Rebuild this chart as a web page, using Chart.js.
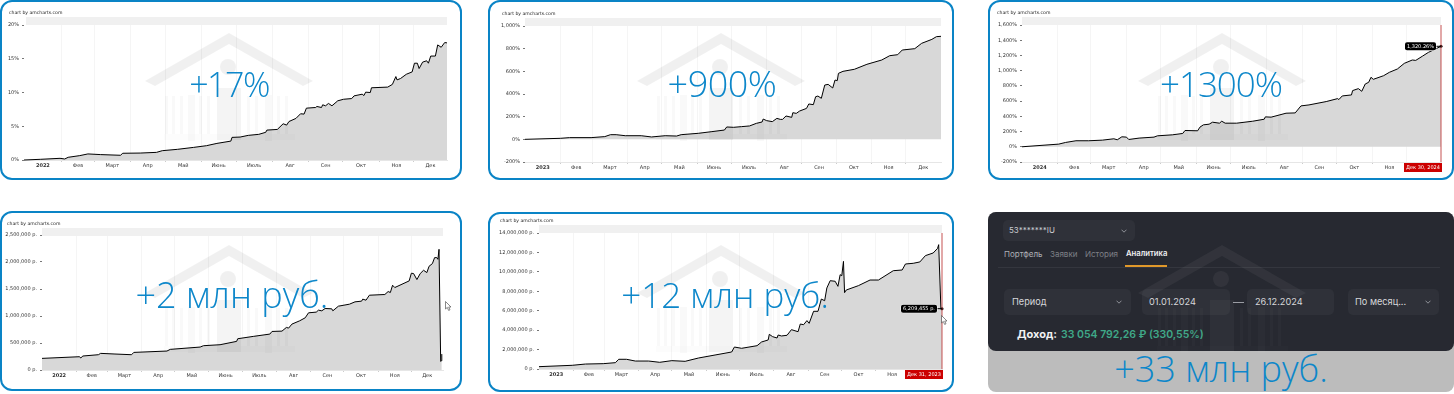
<!DOCTYPE html>
<html lang="ru">
<head>
<meta charset="utf-8">
<title>Доходность</title>
<script src="https://cdn.jsdelivr.net/npm/chart.js@4"></script>
<style>
    html, body { margin: 0; padding: 0; background: #fff; }
    body { position: relative; width: 1454px; height: 394px; overflow: hidden; font-family: "Open Sans", sans-serif; }
    .card { position: absolute; box-sizing: border-box; border: 2px solid #0a84c6; border-radius: 12px; background: #fff; }
    canvas { position: absolute; display: block; filter: blur(0.3px); }
    .credit { position: absolute; font: 4.6px "DejaVu Sans", sans-serif; color: #222; white-space: nowrap; line-height: 6px; }
    .scrollbar { position: absolute; height: 8px; background: #f0f0f0; }
    .house { position: absolute; width: 180px; height: 110px; }
    .big { position: absolute; transform: translateX(-50%); font-family: "Open Sans", sans-serif; font-weight: 300; color: #0d87ca; white-space: nowrap; line-height: 50px; height: 50px; }
    .pointer { position: absolute; width: 7px; height: 10px; }
    #grey { position: absolute; left: 988px; top: 212px; width: 466px; height: 180px; background: #bcbcbc; border-radius: 8px; }
    #dark { position: absolute; left: 988px; top: 212px; width: 466px; height: 139px; background: #272931; border-radius: 8px; }
    .ui { position: absolute; font-family: Inter, sans-serif; white-space: nowrap; }
    .box { position: absolute; background: #2f3139; border-radius: 5px; }
    .chev { position: absolute; width: 6px; height: 4px; }
</style>
</head>
<body>

<svg width="0" height="0" style="position:absolute">
    <symbol id="bank" viewBox="0 0 180 110">
        <path d="M90 0 L6 48 L16 53 L90 11 L164 53 L174 48 Z"/>
        <circle cx="89" cy="34" r="8"/>
        <rect x="78" y="55" width="24" height="52" fill-opacity="0.7"/>
        <g fill-opacity="0.4">
            <rect x="49" y="62" width="7" height="46"/>
            <rect x="126" y="62" width="7" height="46"/>
            <rect x="26" y="63" width="3" height="38"/>
            <rect x="33" y="63" width="3" height="38"/>
            <rect x="41" y="63" width="3" height="38"/>
            <rect x="60" y="63" width="3" height="38"/>
            <rect x="68" y="63" width="3" height="38"/>
            <rect x="108" y="63" width="3" height="38"/>
            <rect x="116" y="63" width="3" height="38"/>
            <rect x="138" y="63" width="3" height="38"/>
            <rect x="146" y="63" width="3" height="38"/>
        </g>
        <rect x="25" y="101" width="131" height="6" fill-opacity="0.2"/>
    </symbol>
    <symbol id="arrow" viewBox="0 0 7 10">
        <path d="M0.5 0.5 L0.5 8 L2.3 6.4 L3.6 9.4 L5 8.8 L3.7 6 L6 6 Z" fill="#fff" stroke="#555" stroke-width="0.7"/>
    </symbol>
    <symbol id="chevron" viewBox="0 0 6 4">
        <path d="M0.5 0.7 L3 3.2 L5.5 0.7" fill="none" stroke="#9a9ca3" stroke-width="0.9"/>
    </symbol>
</svg>

<div class="card" style="left:0;top:0;width:462px;height:180px"></div>
<div class="card" style="left:488px;top:0;width:466px;height:180px"></div>
<div class="card" style="left:988px;top:0;width:466px;height:180px"></div>
<div class="card" style="left:0;top:211px;width:462px;height:180px"></div>
<div class="card" style="left:488px;top:212px;width:466px;height:180px"></div>

<div id="grey"></div>
<div id="dark"></div>
<div class="box" style="left:1003px;top:220px;width:132px;height:21px"></div>
<div class="ui" style="left:1009px;top:224px;font-size:8px;line-height:13px;color:#c9cacf">53*******IU</div>
<svg class="chev" style="left:1121px;top:229px"><use href="#chevron"/></svg>
<div class="ui" style="left:1004px;top:248px;font-size:8px;line-height:12px;color:#aeb0b6">Портфель</div>
<div class="ui" style="left:1050px;top:248px;font-size:8px;line-height:12px;color:#7e8087">Заявки</div>
<div class="ui" style="left:1085px;top:248px;font-size:8px;line-height:12px;color:#7e8087">История</div>
<div class="ui" style="left:1126px;top:248px;font-size:7.7px;line-height:12px;color:#f0f0f2;font-weight:600">Аналитика</div>
<div style="position:absolute;left:998px;top:267px;width:442px;height:1px;background:#34363e"></div>
<div style="position:absolute;left:1125px;top:265px;width:42px;height:2px;background:#e0982a"></div>
<div class="box" style="left:1004px;top:289px;width:127px;height:26px"></div>
<div class="ui" style="left:1012px;top:295px;font-size:9.2px;line-height:14px;color:#d6d7da">Период</div>
<svg class="chev" style="left:1116px;top:300px"><use href="#chevron"/></svg>
<div class="box" style="left:1142px;top:289px;width:88px;height:26px"></div>
<div class="ui" style="left:1149px;top:295px;font-size:9.2px;line-height:14px;color:#d6d7da">01.01.2024</div>
<div style="position:absolute;left:1233px;top:302px;width:11px;height:1px;background:#9a9ca3"></div>
<div class="box" style="left:1247px;top:289px;width:87px;height:26px"></div>
<div class="ui" style="left:1255px;top:295px;font-size:9.2px;line-height:14px;color:#d6d7da">26.12.2024</div>
<div class="box" style="left:1348px;top:289px;width:91px;height:26px"></div>
<div class="ui" style="left:1355px;top:295px;font-size:9.2px;line-height:14px;color:#d6d7da">По месяц...</div>
<svg class="chev" style="left:1425px;top:300px"><use href="#chevron"/></svg>
<div class="ui" style="left:1017px;top:327px;font-size:11px;line-height:15px;color:#f2f2f4;font-weight:700">Доход:</div>
<div class="ui" style="left:1061px;top:327px;font-size:10.5px;line-height:15px;color:#3fa888;font-weight:600">33 054 792,26 ₽ (330,55%)</div>

<canvas id="chart1"></canvas>
<canvas id="chart2"></canvas>
<canvas id="chart3"></canvas>
<canvas id="chart4"></canvas>
<canvas id="chart5"></canvas>

<div class="scrollbar" style="left:26px;top:17px;width:421px"></div>
<div class="scrollbar" style="left:525px;top:18px;width:416px"></div>
<div class="scrollbar" style="left:1022px;top:17px;width:419px"></div>
<div class="scrollbar" style="left:42px;top:228px;width:401px"></div>
<div class="scrollbar" style="left:539px;top:225px;width:403px"></div>

<div class="credit" style="left:9px;top:10px">chart by amcharts.com</div>
<div class="credit" style="left:502px;top:11px">chart by amcharts.com</div>
<div class="credit" style="left:997px;top:10px">chart by amcharts.com</div>
<div class="credit" style="left:7px;top:221px">chart by amcharts.com</div>
<div class="credit" style="left:500px;top:218px">chart by amcharts.com</div>

<svg class="house" style="left:139px;top:33px;fill:rgba(0,0,0,.06)"><use href="#bank"/></svg>
<svg class="house" style="left:631px;top:33px;fill:rgba(0,0,0,.06)"><use href="#bank"/></svg>
<svg class="house" style="left:1132px;top:33px;fill:rgba(0,0,0,.06)"><use href="#bank"/></svg>
<svg class="house" style="left:139px;top:245px;fill:rgba(0,0,0,.06)"><use href="#bank"/></svg>
<svg class="house" style="left:631px;top:245px;fill:rgba(0,0,0,.06)"><use href="#bank"/></svg>
<svg class="house" style="left:1132px;top:245px;fill:rgba(255,255,255,.05)"><use href="#bank"/></svg>

<div class="big" style="left:229px;top:59px;font-size:34px;letter-spacing:-1.5px">+17%</div>
<div class="big" style="left:722px;top:59px;font-size:36px;letter-spacing:-0.5px">+900%</div>
<div class="big" style="left:1221px;top:59px;font-size:35px;letter-spacing:-1px">+1300%</div>
<div class="big" style="left:232px;top:270px;font-size:36px">+2 млн руб.</div>
<div class="big" style="left:725px;top:270px;font-size:35px">+12 млн руб.</div>
<div class="big" style="left:1221px;top:344px;font-size:36px">+33 млн руб.</div>

<svg class="pointer" style="left:445px;top:301px"><use href="#arrow"/></svg>
<svg class="pointer" style="left:941px;top:315px"><use href="#arrow"/></svg>

<script>
// Подписи оси X
const monthLabels = ["Фев", "Март", "Апр", "Май", "Июнь", "Июль", "Авг", "Сен", "Окт", "Ноя", "Дек"];
const monthStarts = [31, 59, 90, 120, 151, 181, 212, 243, 273, 304, 334];
const monthStartsLeap = [31, 60, 91, 121, 152, 182, 213, 244, 274, 305, 335];

// Значения
const days1 = [0, 14, 31, 35, 38, 48, 55, 66, 83, 85, 100, 114, 119, 132, 146, 157, 166, 178, 179, 186, 193, 202, 208, 209, 218, 223, 226, 228, 234, 238, 241, 243, 251, 252, 256, 257, 259.5, 262, 265, 270, 275, 282, 284, 291, 292.5, 294, 298, 299, 313, 317, 320, 321, 324, 329, 334, 336, 338.5, 340, 343, 346.5, 348, 350, 354, 356, 359, 362, 364];
const values1 = [0, 0.1, 0.25, 0.15, 0.4, 0.65, 0.9, 0.8, 0.7, 1.0, 1.03, 1.13, 1.38, 1.58, 1.87, 2.12, 2.46, 2.8, 3.35, 3.4, 3.65, 3.8, 4.1, 4.43, 4.53, 5.37, 5.17, 5.7, 6.16, 6.85, 6.8, 7.68, 7.78, 7.93, 7.78, 8.18, 8.03, 8.38, 8.03, 8.77, 9.0, 9.1, 9.5, 9.75, 9.55, 10.05, 10.0, 10.7, 10.8, 11.2, 12.36, 11.87, 12.07, 12.7, 13.05, 14.34, 14.34, 13.55, 14.5, 14.7, 14.34, 15.4, 15.4, 17.05, 16.7, 17.4, 17.35];
const yTicks1 = [0, 5, 10, 15, 20];

const days2 = [0, 31, 39, 58, 70, 75, 80, 88, 102, 111, 123, 133, 137, 152, 164, 175, 177, 183, 190, 197, 203, 208, 209, 212, 217, 221, 224, 226, 229, 234, 235, 238, 241, 247, 249, 253, 255, 257, 260, 263, 266, 270, 272, 274, 275, 279, 289, 300, 313, 320, 327, 331, 342, 348, 357, 361, 365];
const values2 = [0, 9, 15, 15, 24, 41, 41, 32, 32, 21, 32, 29, 41, 53, 68, 82, 109, 106, 112, 118, 141, 153, 179, 165, 156, 185, 176, 176, 206, 194, 235, 229, 250, 273, 312, 306, 376, 382, 362, 479, 485, 453, 523, 518, 582, 600, 618, 662, 700, 738, 747, 788, 800, 847, 882, 906, 909];
const yTicks2 = [-200, 0, 200, 400, 600, 800, 1000];

const days3 = [0, 32, 38, 47, 58, 70, 80, 83, 87, 91, 93, 102, 115, 118, 131, 140, 142, 153, 155, 158, 163, 166, 172, 174, 177, 187, 201, 211, 212, 217, 230, 238, 243, 250, 265, 275, 276, 279, 287, 288, 293, 296, 299, 302, 304, 306, 315, 320, 327, 333, 340, 343, 349, 354, 365];
const values3 = [0, 35, 57, 79, 79, 87, 105, 92, 131, 127, 96, 114, 127, 144, 157, 175, 214, 210, 258, 288, 297, 323, 310, 336, 310, 310, 336, 362, 393, 389, 441, 445, 537, 550, 594, 633, 620, 668, 681, 738, 764, 729, 825, 847, 913, 886, 934, 978, 1022, 1096, 1140, 1135, 1192, 1240, 1320.26];
const yTicks3 = [-200, 0, 200, 400, 600, 800, 1000, 1200, 1400, 1600];

const days4 = [0, 34, 35, 37, 51, 53, 66, 81, 83, 113, 116, 143, 146, 161, 176, 177, 191, 206, 208, 217, 221, 223, 226, 233, 238, 241, 248, 250, 253, 256, 262, 263, 268, 278, 283, 289, 290, 293, 296, 310, 313, 315, 317, 319, 332, 334, 336, 339, 342, 345, 348, 350, 353, 355, 357, 358, 359, 360.5, 361, 361.5];
const values4 = [215000, 246000, 222000, 259000, 283000, 308000, 296000, 283000, 326000, 351000, 382000, 425000, 450000, 468000, 530000, 579000, 622000, 665000, 714000, 720000, 788000, 776000, 850000, 911000, 967000, 1059000, 1072000, 1108000, 1096000, 1139000, 1133000, 1096000, 1182000, 1219000, 1262000, 1275000, 1312000, 1293000, 1385000, 1398000, 1453000, 1435000, 1570000, 1527000, 1650000, 1792000, 1786000, 1675000, 1786000, 1847000, 1804000, 1921000, 1970000, 2081000, 2081000, 2050000, 2235000, 160000, 170000, 295000];
const yTicks4 = [0, 500000, 1000000, 1500000, 2000000, 2500000];

const days5 = [0, 30, 42, 58, 69, 72, 79, 87, 99, 109, 120, 132, 144, 159, 174, 176.5, 183, 197, 201, 207, 208, 211, 215, 216, 219, 224, 228, 234, 236, 239, 242, 244, 248, 252, 255, 258, 260, 263, 267.5, 270, 272, 273.5, 275, 276, 277.5, 288.5, 299, 306.6, 320, 328, 331, 338, 344, 349, 356, 360, 361, 363, 364];
const values5 = [240000, 380000, 510000, 550000, 650000, 1000000, 1000000, 820000, 820000, 690000, 860000, 790000, 1130000, 1440000, 1750000, 2260000, 2130000, 2400000, 2780000, 2990000, 3570000, 3330000, 3190000, 3500000, 3400000, 3470000, 4050000, 3840000, 4630000, 4560000, 4980000, 4700000, 5940000, 5940000, 7200000, 7030000, 8340000, 9090000, 9030000, 8510000, 9710000, 9600000, 11080000, 7860000, 8130000, 8580000, 9160000, 9160000, 10120000, 10190000, 10810000, 10880000, 11020000, 11670000, 11940000, 12420000, 12800000, 6209455, 6209455];
const yTicks5 = [0, 2000000, 4000000, 6000000, 8000000, 10000000, 12000000, 14000000];

const FONT = "'DejaVu Sans', sans-serif";

const percentLabel = (v) => v.toLocaleString("en-US") + "%";
const rubLabel = (v) => v.toLocaleString("en-US") + " р.";

// Красный курсор, дата и чёрная подпись последней точки
const cursorPlugin = {
    id: "cursorMark",
    afterDraw(chart, args, opts) {
        if (!opts.date) return;
        const ctx = chart.ctx;
        const { top, bottom } = chart.chartArea;
        const data = chart.data.datasets[0].data;
        const last = data[data.length - 1];
        const x = chart.scales.x.getPixelForValue(last.x);
        const y = chart.scales.y.getPixelForValue(last.y);

        ctx.save();
        ctx.strokeStyle = "rgba(190, 60, 60, 0.6)";
        ctx.lineWidth = 1.5;
        ctx.beginPath();
        ctx.moveTo(x, top);
        ctx.lineTo(x, bottom);
        ctx.stroke();

        ctx.fillStyle = "#cc0000";
        ctx.fillRect(x - 37, bottom + 1, 38, 9);
        ctx.fillStyle = "#fff";
        ctx.font = "5px " + FONT;
        ctx.textAlign = "center";
        ctx.textBaseline = "middle";
        ctx.fillText(opts.date, x - 18, bottom + 5.5);

        const tipRight = x - 5;
        ctx.fillStyle = "#000";
        ctx.fillRect(tipRight, y - 0.5, 5, 1);
        ctx.strokeStyle = "#fff";
        ctx.lineWidth = 1;
        ctx.beginPath();
        ctx.roundRect(tipRight - opts.tipWidth, y - 4, opts.tipWidth, 8, 2);
        ctx.stroke();
        ctx.fill();
        ctx.fillStyle = "#fff";
        ctx.fillText(opts.tip, tipRight - opts.tipWidth / 2, y + 0.5);
        ctx.restore();
    },
};

function makeChart(id, cfg) {
    const canvas = document.getElementById(id);
    const { card, plot } = cfg;
    canvas.width = card.w;
    canvas.height = card.h;
    canvas.style.left = card.x + "px";
    canvas.style.top = card.y + "px";
    canvas.style.width = card.w + "px";
    canvas.style.height = card.h + "px";

    const starts = cfg.monthStarts.map((d) => d + (cfg.xShift || 0));
    const edges = [cfg.xMin, ...starts, cfg.xMax];
    const mids = edges.slice(0, -1).map((d, i) => (d + edges[i + 1]) / 2);
    const names = [cfg.year, ...monthLabels];
    const hasMark = !!cfg.date;
    const lastIndex = cfg.days.length - 1;

    new Chart(canvas, {
        type: "line",
        data: {
            datasets: [
                {
                    data: cfg.days.map((d, i) => ({ x: d, y: cfg.values[i] })),
                    borderColor: "#000",
                    borderWidth: 1,
                    backgroundColor: "#d8d8d8",
                    fill: "origin",
                    tension: 0,
                    clip: false,
                    pointRadius: (ctx) => (hasMark && ctx.dataIndex === lastIndex ? 1.5 : 0),
                    pointBackgroundColor: "#000",
                    pointBorderWidth: 0,
                },
            ],
        },
        options: {
            responsive: false,
            animation: false,
            events: [],
            layout: {
                padding: {
                    left: 0,
                    top: plot.top - card.y,
                    right: card.x + card.w - plot.right,
                    bottom: 0,
                },
            },
            plugins: {
                legend: { display: false },
                tooltip: { enabled: false },
                cursorMark: { date: cfg.date, tip: cfg.tip, tipWidth: cfg.tipWidth },
            },
            scales: {
                x: {
                    type: "linear",
                    min: cfg.xMin,
                    max: cfg.xMax,
                    afterBuildTicks: (axis) => {
                        axis.ticks = [...starts, ...mids].sort((a, b) => a - b).map((value) => ({ value }));
                    },
                    afterFit: (axis) => {
                        axis.height = card.y + card.h - plot.bottom;
                    },
                    grid: {
                        color: (ctx) => (ctx.tick && starts.includes(ctx.tick.value) ? "#f5f5f5" : "transparent"),
                        tickColor: (ctx) => (ctx.tick && starts.includes(ctx.tick.value) ? "#ccc" : "transparent"),
                        tickLength: 2,
                        lineWidth: 1,
                    },
                    border: { display: true, color: "#e6e6e6" },
                    ticks: {
                        autoSkip: false,
                        maxRotation: 0,
                        minRotation: 0,
                        padding: 1,
                        color: "#333",
                        font: (ctx) => ({
                            family: FONT,
                            size: 5,
                            weight: ctx.tick && ctx.tick.value === mids[0] ? "bold" : "normal",
                        }),
                        callback: (value) => {
                            const i = mids.indexOf(value);
                            return i >= 0 ? names[i] : "";
                        },
                    },
                },
                y: {
                    min: cfg.yTicks[0],
                    max: cfg.yTicks[cfg.yTicks.length - 1],
                    afterBuildTicks: (axis) => {
                        axis.ticks = cfg.yTicks.map((value) => ({ value }));
                    },
                    afterFit: (axis) => {
                        axis.width = plot.left - card.x;
                    },
                    grid: { drawOnChartArea: false, tickLength: 2, color: "#777" },
                    border: { display: false },
                    ticks: {
                        padding: 3,
                        color: "#333",
                        font: { family: FONT, size: 5 },
                        callback: cfg.yLabel,
                    },
                },
            },
        },
        plugins: [cursorPlugin],
    });
}

makeChart("chart1", {
    card: { x: 3, y: 3, w: 456, h: 174 },
    plot: { left: 24, right: 447, top: 25, bottom: 160 },
    days: days1, values: values1, yTicks: yTicks1, yLabel: percentLabel,
    year: "2022", monthStarts, xShift: 1.5, xMin: 0, xMax: 364,
});
makeChart("chart2", {
    card: { x: 491, y: 3, w: 460, h: 174 },
    plot: { left: 525, right: 941, top: 26, bottom: 162 },
    days: days2, values: values2, yTicks: yTicks2, yLabel: percentLabel,
    year: "2023", monthStarts, xMin: 0, xMax: 365,
});
makeChart("chart3", {
    card: { x: 991, y: 3, w: 460, h: 174 },
    plot: { left: 1022, right: 1441, top: 25, bottom: 162 },
    days: days3, values: values3, yTicks: yTicks3, yLabel: percentLabel,
    year: "2024", monthStarts: monthStartsLeap, xMin: 0, xMax: 365,
    date: "Дек 30, 2024", tip: "1,320.26%", tipWidth: 31,
});
makeChart("chart4", {
    card: { x: 3, y: 214, w: 456, h: 174 },
    plot: { left: 42, right: 443, top: 235, bottom: 370 },
    days: days4, values: values4, yTicks: yTicks4, yLabel: rubLabel,
    year: "2022", monthStarts, xMin: 0, xMax: 362.6,
});
makeChart("chart5", {
    card: { x: 491, y: 215, w: 460, h: 174 },
    plot: { left: 539, right: 942, top: 233, bottom: 369 },
    days: days5, values: values5, yTicks: yTicks5, yLabel: rubLabel,
    year: "2023", monthStarts, xMin: 0, xMax: 364,
    date: "Дек 31, 2023", tip: "6,209,455 р.", tipWidth: 36,
});
</script>
</body>
</html>
